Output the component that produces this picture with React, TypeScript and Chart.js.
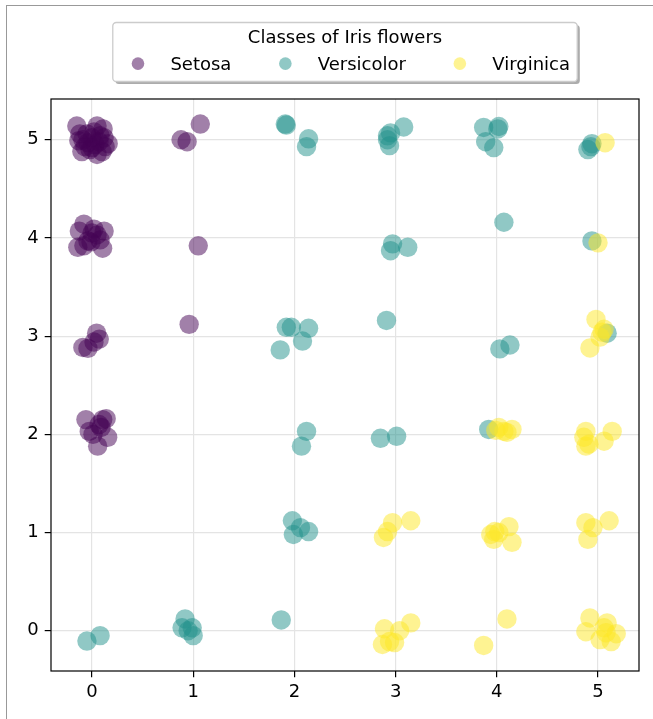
import React, { useEffect, useRef } from 'react';
import { Chart, registerables } from 'chart.js';

Chart.register(...registerables);

const legendTitle = 'Classes of Iris flowers';
const classNames = ['Setosa', 'Versicolor', 'Virginica'];
const classColors = ['rgba(68,1,84,0.5)', 'rgba(33,145,140,0.5)', 'rgba(253,231,37,0.5)'];

const xTicks = [0, 1, 2, 3, 4, 5];
const yTicks = [0, 1, 2, 3, 4, 5];

const setosaX = [
  -0.15, 0.05, 0.11, -0.13, -0.1, 0.05, 0.16, 0.13, -0.05, 0.0, 0.03, -0.07, 0.08, -0.02, 0.1, -0.12, 0.02, -0.04, 0.07, 0.0, -0.09, 0.12,
  0.88, 0.94, 1.07,
  1.05,
  0.96,
  -0.08, -0.125, -0.14, -0.08, 0.02, 0.12, 0.105, -0.01, 0.05, 0.0, -0.04, 0.08,
  0.046, 0.072, -0.09, -0.04, 0.02,
  -0.06, 0.106, 0.14, 0.07, -0.027, 0.155, 0.056, 0.01, 0.09,
];
const setosaY = [
  5.14, 5.14, 5.11, 4.99, 4.88, 4.85, 4.96, 4.93, 5.06, 5.02, 4.95, 4.93, 5.04, 4.9, 4.88, 5.06, 5.08, 4.97, 4.98, 4.92, 5.0, 5.02,
  5.0, 4.98, 5.16,
  3.92,
  3.12,
  4.14, 4.07, 3.905, 3.92, 4.09, 4.07, 3.895, 3.96, 4.03, 4.05, 3.97, 3.98,
  3.03, 2.97, 2.885, 2.875, 2.94,
  2.15, 2.15, 2.16, 2.1, 2.03, 1.97, 1.88, 2.0, 2.07,
];

const versicolorX = [
  -0.05, 0.08,
  0.92, 0.89, 0.99, 1.0, 0.95,
  1.87,
  1.98, 1.99, 2.06, 2.14,
  2.12, 2.07,
  2.85, 3.01,
  3.92,
  1.92, 1.97, 2.14, 2.08, 1.86,
  2.91,
  4.03, 4.13,
  5.09,
  2.97, 2.95, 3.12,
  4.07,
  4.94,
  1.91, 1.92, 2.14, 2.12,
  2.92, 2.92, 2.94, 2.95, 3.08,
  3.87, 4.02, 4.01, 3.89, 3.97,
  4.9, 4.93, 4.94,
];
const versicolorY = [
  -0.105, -0.05,
  0.12, 0.03, 0.03, -0.05, 0.0,
  0.11,
  1.12, 0.98, 1.05, 1.01,
  2.03, 1.88,
  1.96, 1.98,
  2.05,
  3.09, 3.09, 3.08, 2.95, 2.86,
  3.16,
  2.87, 2.91,
  3.03,
  3.94, 3.87, 3.905,
  4.16,
  3.97,
  5.16, 5.15, 5.01, 4.93,
  5.04, 5.0, 4.94, 5.07, 5.13,
  5.125, 5.135, 5.11, 4.98, 4.92,
  4.9, 4.93, 4.96,
];

const virginicaX = [
  4.02, 4.07, 4.1, 4.15, 3.99,
  4.88, 5.14, 5.06, 4.88, 4.91, 4.86,
  4.98, 5.06, 5.02, 4.92, 5.04,
  5.0,
  5.07,
  2.97, 3.15, 2.92, 2.88,
  3.98, 4.12, 4.15, 3.97, 3.94, 4.02,
  4.88, 5.11, 4.95, 4.9,
  2.89, 3.15, 3.04, 2.87, 2.99, 2.94,
  4.1, 3.87,
  4.92, 5.09, 4.88, 5.06, 5.18, 5.13, 5.02, 5.08,
];
const virginicaY = [
  2.07, 2.03, 2.02, 2.05, 2.04,
  2.03, 2.03, 1.93, 1.88, 1.9, 1.97,
  3.17, 3.07, 2.99, 2.88, 3.04,
  3.95,
  4.97,
  1.1, 1.12, 1.01, 0.95,
  1.01, 1.06, 0.9, 0.93, 0.98, 1.0,
  1.1, 1.12, 1.05, 0.93,
  0.02, 0.08, 0.0, -0.14, -0.12, -0.11,
  0.12, -0.15,
  0.13, 0.08, -0.01, 0.03, -0.03, -0.11, -0.09, -0.02,
];

const FONT = '"DejaVu Sans", "Liberation Sans", sans-serif';
const FS = 18;
const W = 653;
const H = 719;

function pts(xs: number[], ys: number[]) {
  return xs.map((x, i) => ({ x, y: ys[i] }));
}

function roundRect(ctx: CanvasRenderingContext2D, x: number, y: number, w: number, h: number, r: number) {
  ctx.beginPath();
  ctx.moveTo(x + r, y);
  ctx.arcTo(x + w, y, x + w, y + h, r);
  ctx.arcTo(x + w, y + h, x, y + h, r);
  ctx.arcTo(x, y + h, x, y, r);
  ctx.arcTo(x, y, x + w, y, r);
  ctx.closePath();
}

const framePlugin = {
  id: 'axesFrame',
  afterDatasetsDraw(chart: any) {
    const { ctx, chartArea: a } = chart;
    ctx.save();
    ctx.strokeStyle = '#000';
    ctx.lineWidth = 1.2;
    ctx.strokeRect(a.left, a.top, a.right - a.left, a.bottom - a.top);
    ctx.restore();
  },
};

const legendPlugin = {
  id: 'boxLegend',
  afterDraw(chart: any) {
    const ctx: CanvasRenderingContext2D = chart.ctx;
    const a = chart.chartArea;
    const cx = (a.left + a.right) / 2;
    ctx.save();
    ctx.font = `${FS}px ${FONT}`;
    const ds = chart.data.datasets;
    const handle = 2 * FS;
    const pad = 0.8 * FS;
    const colsp = 2 * FS;
    const widths = ds.map((d: any) => handle + pad + ctx.measureText(d.label).width);
    const total = widths.reduce((s: number, v: number) => s + v, 0) + colsp * (ds.length - 1);
    const start = cx - total / 2;
    const bx = start - 0.4 * FS;
    const bw = total + 0.8 * FS;
    const by = 22.5;
    const bh = 59;
    // shadow
    roundRect(ctx, bx + 2.6, by + 2.6, bw, bh, 3.6);
    ctx.fillStyle = '#acacac';
    ctx.fill();
    // box
    roundRect(ctx, bx, by, bw, bh, 3.6);
    ctx.fillStyle = '#ffffff';
    ctx.fill();
    ctx.strokeStyle = '#cccccc';
    ctx.lineWidth = 1.3;
    ctx.stroke();
    // title
    ctx.fillStyle = '#000';
    ctx.textAlign = 'center';
    ctx.textBaseline = 'alphabetic';
    ctx.fillText(legendTitle, cx, 43.3);
    // items
    let x = start;
    ds.forEach((d: any, i: number) => {
      ctx.beginPath();
      ctx.arc(x + handle / 2, 63.6, 6.3, 0, Math.PI * 2);
      ctx.fillStyle = d.backgroundColor;
      ctx.fill();
      ctx.fillStyle = '#000';
      ctx.textAlign = 'left';
      ctx.fillText(d.label, x + handle + pad, 69.8);
      x += widths[i] + colsp;
    });
    ctx.restore();
  },
};

export default function App() {
  const ref = useRef<HTMLCanvasElement | null>(null);

  useEffect(() => {
    if (!ref.current) return;
    const series = [
      pts(setosaX, setosaY),
      pts(versicolorX, versicolorY),
      pts(virginicaX, virginicaY),
    ];
    const tickFont = { family: FONT, size: FS };
    const chart = new Chart(ref.current, {
      type: 'scatter',
      data: {
        datasets: classNames.map((name, i) => ({
          label: name,
          data: series[i],
          backgroundColor: classColors[i],
          borderWidth: 0,
          pointRadius: 9.7,
          pointHoverRadius: 9.7,
          order: 3 - i,
        })),
      },
      options: {
        animation: false,
        responsive: false,
        devicePixelRatio: 1,
        events: [],
        layout: { padding: { top: 99, right: W - 639, left: 0, bottom: 0 } },
        plugins: {
          legend: { display: false },
          tooltip: { enabled: false },
        },
        scales: {
          x: {
            type: 'linear',
            min: -0.405,
            max: 5.405,
            afterBuildTicks: (scale: any) => {
              scale.ticks = xTicks.map((v) => ({ value: v }));
            },
            afterFit: (scale: any) => {
              scale.height = H - 671;
            },
            ticks: { font: tickFont, color: '#000', padding: 4, maxRotation: 0, autoSkip: false, callback: (v: any) => String(v) },
            grid: { color: '#e4e4e4', lineWidth: 1.2, drawTicks: true, tickLength: 6.3, tickColor: '#000', tickWidth: 1.2 },
            border: { display: false },
          },
          y: {
            type: 'linear',
            min: -0.41,
            max: 5.415,
            afterBuildTicks: (scale: any) => {
              scale.ticks = yTicks.map((v) => ({ value: v }));
            },
            afterFit: (scale: any) => {
              scale.width = 51;
            },
            ticks: { font: tickFont, color: '#000', padding: 6, autoSkip: false, callback: (v: any) => String(v) },
            grid: { color: '#e4e4e4', lineWidth: 1.2, drawTicks: true, tickLength: 6.3, tickColor: '#000', tickWidth: 1.2 },
            border: { display: false },
          },
        },
      },
      plugins: [framePlugin, legendPlugin],
    } as any);
    return () => chart.destroy();
  }, []);

  return (
    <div style={{ position: 'fixed', left: 0, top: 0, width: W, height: H, overflow: 'hidden', background: '#fff' }}>
      <div style={{ position: 'absolute', left: 6, top: 5, width: 900, height: 900, border: '1px solid #999', boxSizing: 'border-box' }} />
      <canvas ref={ref} width={W} height={H} style={{ position: 'absolute', left: 0, top: 0, width: W, height: H }} />
    </div>
  );
}
